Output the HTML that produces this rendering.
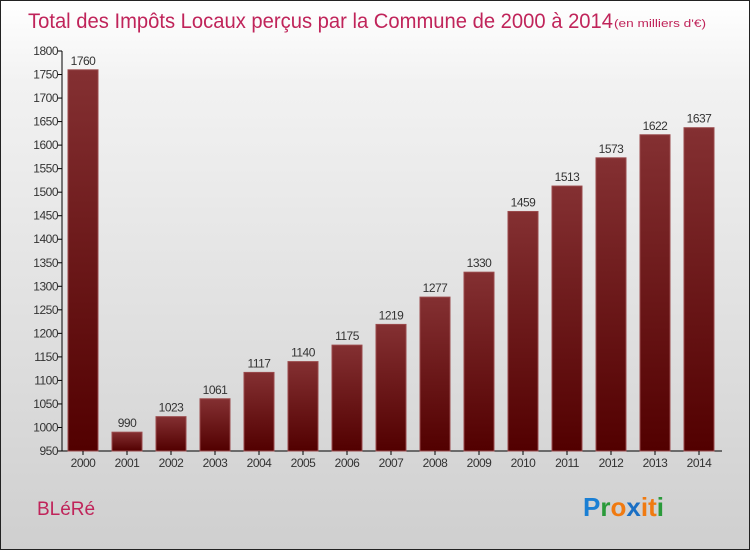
<!DOCTYPE html>
<html><head><meta charset="utf-8"><style>
body{margin:0}
#c{width:750px;height:550px;position:relative;box-sizing:border-box;border:1px solid #222;background:linear-gradient(#fff,#f2f2f2 15%,#cfcfcf);font-family:"Liberation Sans",sans-serif;overflow:hidden}
</style></head><body>
<div id="c">
<svg width="750" height="550" id="s">
<defs><linearGradient id="g" x1="0" y1="0" x2="0" y2="1"><stop offset="0" stop-color="#843032"/><stop offset="1" stop-color="#520000"/></linearGradient></defs>
<text x="27" y="27" font-size="21" fill="#c0245a" textLength="585" lengthAdjust="spacingAndGlyphs">Total des Impôts Locaux perçus par la Commune de 2000 à 2014</text>
<text x="613" y="26" font-size="11" fill="#c0245a" textLength="92" lengthAdjust="spacingAndGlyphs">(en milliers d'€)</text>
<text x="36" y="514" font-size="19" fill="#c0245a">BLéRé</text>
<text x="582" y="515" font-size="26" font-weight="bold"><tspan fill="#1a7fd4">P</tspan><tspan fill="#2a9a3a">r</tspan><tspan fill="#f07a10">o</tspan><tspan fill="#1a6fc4">x</tspan><tspan fill="#f07a10">i</tspan><tspan fill="#f07a10">t</tspan><tspan fill="#2a9a3a">i</tspan></text>
<g id="plot"></g>
</svg>
</div>
<script>
const years=["2000","2001","2002","2003","2004","2005","2006","2007","2008","2009","2010","2011","2012","2013","2014"];
const values=[1760,990,1023,1061,1117,1140,1175,1219,1277,1330,1459,1513,1573,1622,1637];
const yTicks=[950,1000,1050,1100,1150,1200,1250,1300,1350,1400,1450,1500,1550,1600,1650,1700,1750,1800];
const NS="http://www.w3.org/2000/svg";
const g=document.getElementById('plot');
const y=v=>450-(v-950)*400/850;
const x=i=>82+i*44;
function mk(t,a){const e=document.createElementNS(NS,t);for(const k in a)e.setAttribute(k,a[k]);g.appendChild(e);return e;}
let e=mk('line',{x1:61,y1:50,x2:61,y2:450,stroke:'#000'});


e=mk('line',{x1:61,y1:450,x2:721,y2:450,stroke:'#000'});


yTicks.forEach(v=>{
 let t=mk('line',{x1:57,y1:y(v),x2:61,y2:y(v),stroke:'#000'});
 
 
 let l=mk('text',{x:57,y:y(v)+4,'font-size':12,'text-anchor':'end',fill:'#333','letter-spacing':'-0.5'});
 l.textContent=v;
 
 
});
years.forEach((yr,i)=>{
 let b=mk('rect',{x:x(i)-15,y:y(values[i]),width:30,height:450-y(values[i]),fill:'url(#g)',stroke:'#9a4a4c','stroke-width':1});
 
 
 let t=mk('line',{x1:x(i),y1:450,x2:x(i),y2:454,stroke:'#000'});
 
 
 let l=mk('text',{x:x(i),y:466,'font-size':12,'text-anchor':'middle',fill:'#333','letter-spacing':'-0.5'});
 l.textContent=yr;
 
 
 let v=mk('text',{x:x(i),y:y(values[i])-5,'font-size':12,'text-anchor':'middle',fill:'#333','letter-spacing':'-0.5'});
 v.textContent=values[i];
 
 
});
</script>
</body></html>
